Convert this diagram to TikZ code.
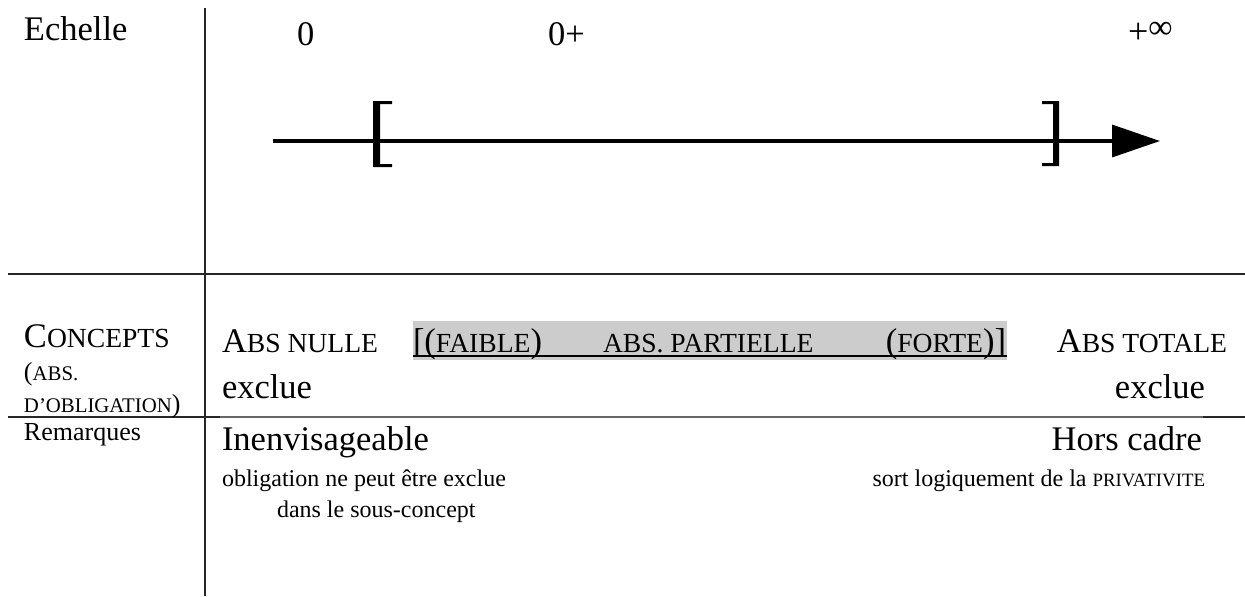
\documentclass[tikz,border=0pt]{standalone}
\usepackage{fontspec}
\setmainfont{Liberation Serif}
\usetikzlibrary{arrows.meta}
\newcommand\fs[1]{\fontsize{#1pt}{#1pt}\selectfont}
\newcommand\bigsz{\fs{17.25}}
\newcommand\bsc{\fs{13.8}}
\begin{document}
\begin{tikzpicture}[x=0.5pt,y=-0.5pt,
  txt/.style={inner sep=0pt,outer sep=0pt},
  tw/.style={txt,anchor=base west},
  te/.style={txt,anchor=base east},
  rule/.style={line width=0.8pt,black!85},
  grayrule/.style={line width=0.7pt,black!60},
  axisline/.style={line width=1.75pt,-{Triangle[length=24pt,width=16pt]}}]
\useasboundingbox (0,0) rectangle (1245,596);
% table rules
\coordinate (vt) at (205,8);
\coordinate (vb) at (205,596);
\coordinate (h1l) at (8,274);
\coordinate (h1r) at (1245,274);
\coordinate (h2l) at (8,417);
\coordinate (h2a) at (220,417);
\coordinate (h2b) at (1203,417);
\coordinate (h2r) at (1245,417);
\draw[rule] (vt) -- (vb);
\draw[rule] (h1l) -- (h1r);
\draw[rule] (h2l) -- (h2a);
\draw[grayrule] (h2a) -- (h2b);
\draw[rule] (h2b) -- (h2r);
% row 1
\node[tw] (echelle) at (24,40) {\bigsz Echelle};
\node[tw] (zero) at (297,45) {\bigsz 0};
\node[tw] (zeroplus) at (548,45) {\bigsz 0+};
\node[tw] (plusinf) at (1128,43) {\fs{18}+\raisebox{2.5pt}{\fs{17}∞}};
\coordinate (axL) at (273,141);
\coordinate (axR) at (1160,141);
\draw[axisline] (axL) -- (axR);
\fill (373,101) -- (392,101) -- (392,104) -- (380,104) -- (380,164) -- (392,164) -- (392,167) -- (373,167) -- cycle;
\fill (1059,101) -- (1042,101) -- (1042,104) -- (1053,104) -- (1053,163) -- (1042,163) -- (1042,166) -- (1059,166) -- cycle;
% row 2
\node[tw] (concepts) at (24,347) {\bigsz C{\bsc ONCEPTS}};
\node[tw] (abs) at (24,380) {\fs{13}({\fs{10.4}ABS.}};
\node[tw] (oblig) at (24,412) {{\fs{10.4}D’OBLIGATION}\fs{13})};
\fill[black!20] (413,321) rectangle (1007,360);
\coordinate (ulL) at (413,356);
\coordinate (ulR) at (1007,356);
\draw[line width=0.75pt] (ulL) -- (ulR);
\node[tw] (absnulle) at (222,352) {\bigsz A{\bsc BS NULLE}};
\node[tw] (faible) at (413,352) {\bigsz[({\bsc FAIBLE})};
\node[tw] (partielle) at (603,352) {\bsc ABS. PARTIELLE};
\node[te] (forte) at (1006,352) {\bigsz({\bsc FORTE})]};
\node[te] (abstotale) at (1227,352) {\bigsz A{\bsc BS TOTALE}};
\node[tw] (exclueL) at (222,398) {\bigsz exclue};
\node[te] (exclueR) at (1205,398) {\bigsz exclue};
% row 3
\node[tw] (remarques) at (24,440) {\fs{13}Remarques};
\node[tw] (inenv) at (222,450) {\bigsz Inenvisageable};
\node[te] (hors) at (1202,450) {\bigsz Hors cadre};
\node[tw] (oblig2) at (222,486) {\fs{12}obligation ne peut être exclue};
\node[tw] (dans) at (277,517) {\fs{12}dans le sous-concept};
\node[te] (sort) at (1205,486) {\fs{12}sort logiquement de la {\fs{9.4}PRIVATIVITE}};
\end{tikzpicture}
\end{document}
